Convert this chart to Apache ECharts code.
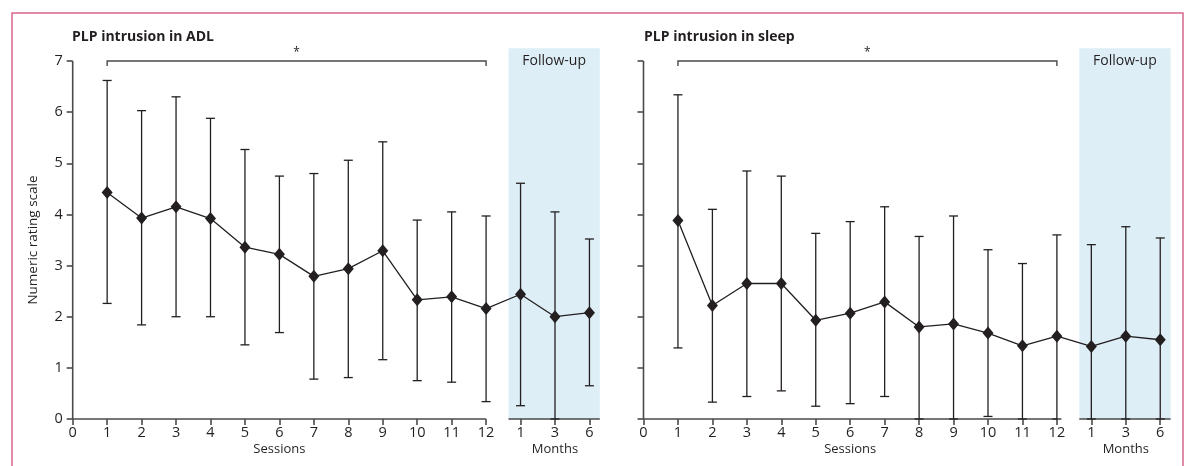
<!DOCTYPE html>
<html>
<head>
<meta charset="utf-8">
<script src="https://cdn.jsdelivr.net/npm/echarts@6/dist/echarts.min.js"></script>
<style>
html,body{margin:0;padding:0;background:#fff;}
#c{width:1186px;height:466px;}
</style>
</head>
<body>
<div id="c"></div>
<script>
// ---- data ----
const xPositions = [1,2,3,4,5,6,7,8,9,10,11,12,13,14,15];
const xTickValues = [0,1,2,3,4,5,6,7,8,9,10,11,12,13,14,15];
const xTickLabels = ['0','1','2','3','4','5','6','7','8','9','10','11','12','1','3','6'];
const yTickValues = [0,1,2,3,4,5,6,7];
const panelTitles = ['PLP intrusion in ADL','PLP intrusion in sleep'];
const yAxisTitle = 'Numeric rating scale';
const sessionsLabel = 'Sessions';
const monthsLabel = 'Months';
const followUpLabel = 'Follow-up';

const adlMean  = [4.43,3.93,4.15,3.92,3.36,3.22,2.79,2.94,3.29,2.33,2.39,2.16,2.44,2.00,2.08];
const adlUpper = [6.62,6.03,6.30,5.88,5.27,4.75,4.80,5.06,5.42,3.89,4.05,3.97,4.61,4.05,3.52];
const adlLower = [2.26,1.84,2.00,2.00,1.45,1.69,0.78,0.81,1.16,0.75,0.72,0.34,0.26,0.00,0.65];

const sleepMean  = [3.88,2.22,2.65,2.65,1.93,2.07,2.29,1.80,1.86,1.68,1.43,1.62,1.42,1.62,1.55];
const sleepUpper = [6.34,4.10,4.85,4.75,3.63,3.86,4.15,3.57,3.97,3.31,3.04,3.60,3.41,3.76,3.54];
const sleepLower = [1.39,0.33,0.44,0.55,0.25,0.30,0.44,0.00,0.00,0.05,0.00,0.00,0.00,0.00,0.00];

// ---- style ----
const FONT = '"Open Sans", "Noto Sans", sans-serif';
const INK = '#231f20';
const AXIS = '#4a4a4a';
const BOX = '#ddeef6';
const FOLLOW_START = 12.65, FOLLOW_END = 15.3, BOX_TOP = 7.25;

const chart = echarts.init(document.getElementById('c'), null, {renderer:'canvas'});

function errRender(params, api){
  const x = api.value(0), lo = api.value(1), hi = api.value(2);
  const p1 = api.coord([x, hi]), p2 = api.coord([x, lo]);
  const w = 4.5;
  const st = {stroke: INK, lineWidth: 1.3};
  return {type:'group', children:[
    {type:'line', shape:{x1:p1[0],y1:p1[1],x2:p2[0],y2:p2[1]}, style:st},
    {type:'line', shape:{x1:p1[0]-w,y1:p1[1],x2:p1[0]+w,y2:p1[1]}, style:st},
    {type:'line', shape:{x1:p2[0]-w,y1:p2[1],x2:p2[0]+w,y2:p2[1]}, style:st}
  ]};
}

function decoRender(panel){
  return function(params, api){
    const c = (x,y) => api.coord([x,y]);
    const ax = {stroke: AXIS, lineWidth: 1.6};
    const children = [];
    const b1 = c(FOLLOW_START, BOX_TOP), b2 = c(FOLLOW_END, 0);
    children.push({type:'rect', shape:{x:b1[0], y:b1[1], width:b2[0]-b1[0], height:b2[1]-b1[1]}, style:{fill:BOX}, z2:0});
    const o = c(0,0), yt = c(0,7), x12 = c(12,0), fs = c(FOLLOW_START,0), fe = c(FOLLOW_END,0);
    children.push({type:'line', shape:{x1:o[0],y1:o[1],x2:yt[0],y2:yt[1]}, style:ax, z2:2});
    children.push({type:'line', shape:{x1:o[0],y1:o[1],x2:x12[0],y2:x12[1]}, style:ax, z2:2});
    children.push({type:'line', shape:{x1:fs[0],y1:fs[1],x2:fe[0],y2:fe[1]}, style:ax, z2:2});
    // bracket
    const k1 = c(1,7), k2 = c(12,7);
    children.push({type:'polyline', shape:{points:[[k1[0],k1[1]+5],[k1[0],k1[1]],[k2[0],k2[1]],[k2[0],k2[1]+5]]}, style:{stroke:AXIS, lineWidth:1.4, fill:null}, z2:2});
    const am = c(6.5,7);
    children.push({type:'text', x:am[0], y:am[1]-8, style:{text:'*', fill:INK, font:'12px '+FONT, align:'center', verticalAlign:'middle'}, z2:3});
    const fu = c((FOLLOW_START+FOLLOW_END)/2, 7);
    children.push({type:'text', x:fu[0], y:fu[1], style:{text:followUpLabel, fill:INK, font:'14px '+FONT, align:'center', verticalAlign:'middle'}, z2:3});
    const s = c(6,0), m = c(14,0);
    children.push({type:'text', x:s[0], y:s[1]+30, style:{text:sessionsLabel, fill:INK, font:'13px '+FONT, align:'center', verticalAlign:'middle'}, z2:3});
    children.push({type:'text', x:m[0], y:m[1]+30, style:{text:monthsLabel, fill:INK, font:'13px '+FONT, align:'center', verticalAlign:'middle'}, z2:3});
    if (panel === 0){
      const yn = c(0,3.5);
      children.push({type:'text', x:yn[0]-40, y:yn[1], rotation:Math.PI/2, style:{text:yAxisTitle, fill:INK, font:'13.5px '+FONT, align:'center', verticalAlign:'middle'}, z2:3});
    }
    return {type:'group', children};
  };
}

const grids = [
  {left:72.7, top:45.7, width:528.8, height:373.3, outerBoundsMode:'none'},
  {left:643.5, top:45.7, width:528.8, height:373.3, outerBoundsMode:'none'}
];

function xAxisFor(i){
  return {type:'value', gridIndex:i, min:0, max:15.35, interval:1,
    axisLine:{show:false}, splitLine:{show:false},
    axisTick:{show:true, length:6, customValues:xTickValues, lineStyle:{color:AXIS, width:1.6}},
    axisLabel:{show:true, customValues:xTickValues, margin:6, color:INK, fontSize:14.5, fontFamily:FONT,
      formatter: v => { const idx = xTickValues.indexOf(v); return idx >= 0 ? xTickLabels[idx] : ''; }}
  };
}
function yAxisFor(i){
  return {type:'value', gridIndex:i, min:0, max:7.3, interval:1,
    axisLine:{show:false}, splitLine:{show:false},
    axisTick:{show:true, length:6, customValues:yTickValues, lineStyle:{color:AXIS, width:1.6}},
    axisLabel:{show:i===0, customValues:yTickValues, margin:10, color:INK, fontSize:14.5, fontFamily:FONT,
      formatter: v => (yTickValues.indexOf(v) >= 0 ? String(v) : '')}
  };
}

const panels = [
  {mean:adlMean, lo:adlLower, hi:adlUpper},
  {mean:sleepMean, lo:sleepLower, hi:sleepUpper}
];

const series = [];
panels.forEach((p, i) => {
  series.push({type:'custom', xAxisIndex:i, yAxisIndex:i, z:1, silent:true,
    renderItem: decoRender(i), data:[[0,0]], clip:false});
  series.push({type:'custom', xAxisIndex:i, yAxisIndex:i, z:3, silent:true,
    renderItem: errRender, encode:{x:0, y:[1,2]},
    data: xPositions.map((x,j) => [x, p.lo[j], p.hi[j]]), clip:false});
  series.push({type:'line', xAxisIndex:i, yAxisIndex:i, z:4, silent:true,
    data: xPositions.map((x,j) => [x, p.mean[j]]),
    symbol:'diamond', symbolSize:[11,13], showSymbol:true,
    lineStyle:{color:INK, width:1.3}, itemStyle:{color:INK}, animation:false});
});

chart.setOption({
  animation:false,
  backgroundColor:'#fff',
  title: panelTitles.map((t,i) => ({text:t, left: i===0 ? 72 : 644, top:30, padding:0,
    textStyle:{fontSize:14, fontWeight:'bold', color:INK, fontFamily:FONT}})),
  grid: grids,
  xAxis: [xAxisFor(0), xAxisFor(1)],
  yAxis: [yAxisFor(0), yAxisFor(1)],
  graphic: [{type:'rect', left:9.5, top:10.5, shape:{x:0,y:0,width:1171,height:520},
    style:{fill:null, stroke:'#d6668c', lineWidth:1.5}, silent:true, z:100}],
  series
});
</script>
</body>
</html>
